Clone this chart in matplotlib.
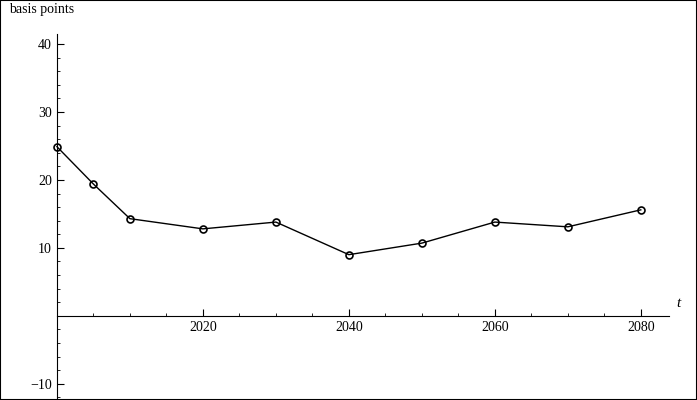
import matplotlib.pyplot as plt
from matplotlib.patches import Rectangle

years = [2000, 2005, 2010, 2020, 2030, 2040, 2050, 2060, 2070, 2080]
bps = [24.9, 19.4, 14.3, 12.8, 13.8, 9.0, 10.7, 13.8, 13.1, 15.6]

plt.rcParams['font.family'] = ['Liberation Serif', 'DejaVu Serif']
fig = plt.figure(figsize=(6.97, 4.0), dpi=100)
ax = fig.add_axes([0, 0, 1, 1])
ax.set_xlim(1992.2, 2087.7)
ax.set_ylim(-12.4, 46.5)

ax.plot(years, bps, color='black', lw=1)
ax.plot(years, bps, 'o', mfc='none', mec='black', ms=5, mew=1.2)

ax.spines['left'].set_position(('data', 2000))
ax.spines['bottom'].set_position(('data', 0))
ax.spines['left'].set_bounds(-12.4, 41.5)
ax.spines['bottom'].set_bounds(2000, 2083.8)
ax.spines['right'].set_visible(False)
ax.spines['top'].set_visible(False)
ax.set_xticks([2020, 2040, 2060, 2080])
ax.set_yticks([-10, 10, 20, 30, 40])
ax.set_xticks([x for x in range(2005, 2084, 5) if x % 20], minor=True)
ax.set_yticks([y for y in range(-12, 41, 2) if y % 10], minor=True)
ax.tick_params(direction='in', labelsize=10, length=5)
ax.tick_params(which='minor', direction='in', length=2.5)
ax.text(1993.5, 46.0, 'basis points', ha='left', va='top', fontsize=10)
ax.text(2084.8, 0.8, 't', fontsize=11, style='italic', va='bottom')

fig.patches.append(Rectangle((0, 0), 1, 1, transform=fig.transFigure,
                             fill=False, ec='black', lw=1.5))
fig.savefig('out.png', dpi=100)
